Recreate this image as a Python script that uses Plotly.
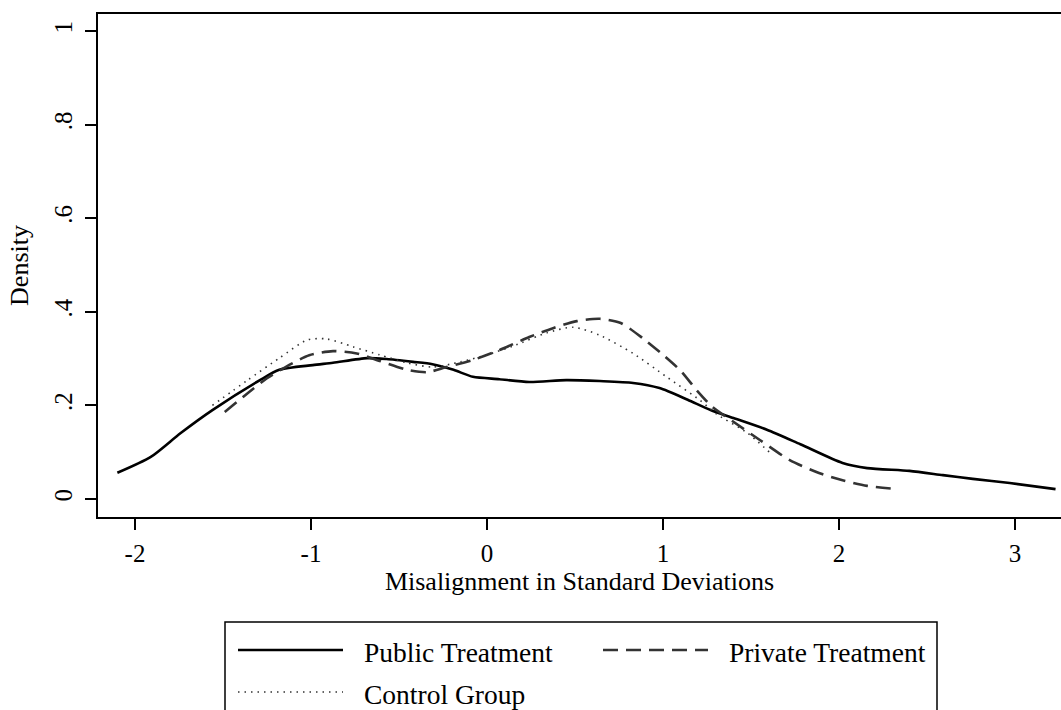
import plotly.graph_objects as go

# ---- data ----
pub_x = [-2.10, -1.91, -1.74, -1.56, -1.29, -1.18, -0.99, -0.875, -0.68, -0.57, -0.42, -0.31,
         -0.19, -0.08, 0.07, 0.24, 0.45, 0.64, 0.83, 0.98, 1.14, 1.27, 1.40, 1.59, 1.78,
         2.02, 2.16, 2.40, 2.59, 2.76, 2.97, 3.23]
pub_y = [0.056, 0.090, 0.141, 0.190, 0.254, 0.276, 0.286, 0.291, 0.301, 0.299, 0.293, 0.288,
         0.276, 0.261, 0.256, 0.250, 0.254, 0.252, 0.248, 0.237, 0.212, 0.190, 0.173, 0.148, 0.117,
         0.077, 0.066, 0.060, 0.051, 0.043, 0.034, 0.021]

priv_x = [-1.49, -1.36, -1.25, -1.14, -1.01, -0.875, -0.74, -0.61, -0.455, -0.34, -0.23, -0.08,
          0.07, 0.24, 0.375, 0.51, 0.64, 0.76, 0.89, 1.00, 1.10, 1.19, 1.28, 1.40, 1.55, 1.72,
          1.89, 2.02, 2.16, 2.31]
priv_y = [0.186, 0.226, 0.258, 0.283, 0.307, 0.316, 0.311, 0.295, 0.276, 0.271, 0.282, 0.297,
          0.318, 0.346, 0.365, 0.380, 0.385, 0.376, 0.342, 0.308, 0.274, 0.233, 0.197, 0.165, 0.126,
          0.083, 0.055, 0.040, 0.028, 0.022]

ctrl_x = [-1.56, -1.36, -1.18, -1.02, -0.91, -0.76, -0.61, -0.455, -0.31, -0.15, 0.0, 0.15,
          0.34, 0.49, 0.64, 0.83, 1.02, 1.21, 1.31, 1.48, 1.61]
ctrl_y = [0.200, 0.254, 0.301, 0.340, 0.342, 0.325, 0.308, 0.291, 0.282, 0.293, 0.308, 0.327,
          0.355, 0.367, 0.350, 0.311, 0.261, 0.211, 0.180, 0.141, 0.098]

series_names = ["Public Treatment", "Private Treatment", "Control Group"]
x_ticks = [-2, -1, 0, 1, 2, 3]
x_tick_labels = ["-2", "-1", "0", "1", "2", "3"]
y_ticks = [0, 0.2, 0.4, 0.6, 0.8, 1.0]
y_tick_labels = ["0", ".2", ".4", ".6", ".8", "1"]

FONT = "Liberation Serif"
FS_TICK = 25
FS_TITLE = 26
FS_LEG = 27.5
W, H = 1061, 710
ML, MT, MR, MB = 98, 14, 0, 193

styles = [
    dict(color="black", width=2.6, dash="solid"),
    dict(color="#333333", width=2.6, dash="15px,8px"),
    dict(color="#333333", width=1.6, dash="1.5px,5px"),
]

fig = go.Figure()
for (xs, ys), name, st in zip([(pub_x, pub_y), (priv_x, priv_y), (ctrl_x, ctrl_y)],
                              series_names, styles):
    fig.add_trace(go.Scatter(x=xs, y=ys, mode="lines", name=name,
                             line=dict(color=st["color"], width=st["width"], dash=st["dash"],
                                       shape="spline", smoothing=0.7),
                             showlegend=False))

axis_common = dict(showgrid=False, zeroline=False, showline=True, linecolor="black",
                   linewidth=2, ticks="outside", ticklen=11, tickwidth=2, tickcolor="black",
                   tickfont=dict(family=FONT, size=FS_TICK, color="black"))

fig.update_xaxes(range=[-2.21, 3.261], tickvals=x_ticks, ticktext=x_tick_labels,
                 mirror=True, ticklabelstandoff=2,
                 title=dict(text="Misalignment in Standard Deviations",
                            font=dict(family=FONT, size=FS_TITLE, color="black"), standoff=5),
                 **axis_common)
fig.update_yaxes(range=[-0.0385, 1.0363], tickvals=y_ticks, ticktext=y_tick_labels,
                 tickangle=-90, ticklabelstandoff=3,
                 title=dict(text="Density", font=dict(family=FONT, size=FS_TITLE, color="black"),
                            standoff=14),
                 **axis_common)

# ---- legend drawn in pixel positions converted to paper coordinates ----
pw, ph = W - ML - MR, H - MT - MB
def px(x):
    return (x - ML) / pw
def py(y):
    return (H - MB - y) / ph

shapes = [dict(type="rect", xref="paper", yref="paper", x0=px(225), x1=px(937),
               y0=py(622), y1=py(720), line=dict(color="black", width=1.5),
               fillcolor="white", layer="below")]
rows = [(650, 238, 343, 362), (650, 603, 708, 727), (692, 238, 343, 362)]
for (yy, lx0, lx1, tx), name, st in zip(rows, series_names, styles):
    shapes.append(dict(type="line", xref="paper", yref="paper", x0=px(lx0), x1=px(lx1),
                       y0=py(yy), y1=py(yy),
                       line=dict(color=st["color"], width=st["width"], dash=st["dash"])))
annotations = []
for (yy, lx0, lx1, tx), name in zip(rows, series_names):
    annotations.append(dict(text=name, xref="paper", yref="paper", x=px(tx), y=py(yy + 2),
                            xanchor="left", yanchor="middle", showarrow=False,
                            font=dict(family=FONT, size=FS_LEG, color="black")))

fig.update_layout(width=W, height=H, margin=dict(l=ML, r=MR, t=MT, b=MB),
                  paper_bgcolor="white", plot_bgcolor="white",
                  shapes=shapes, annotations=annotations)

fig.write_html("out.html")
